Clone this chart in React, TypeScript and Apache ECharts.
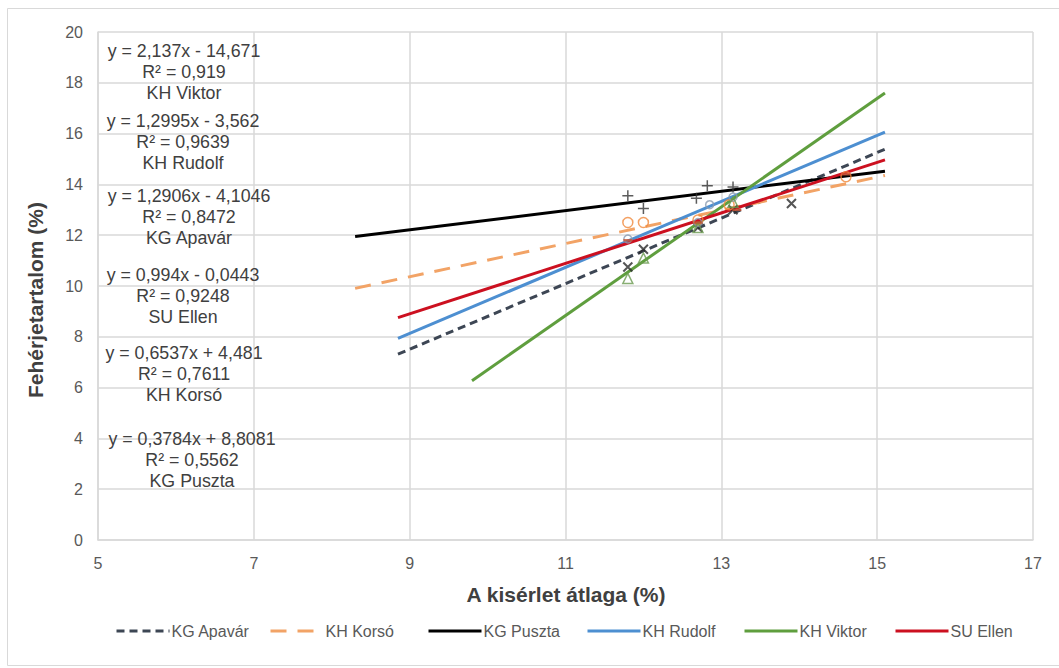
import React, { useEffect, useRef } from "react";
import * as echarts from "echarts";

// Trendline series (legend order)
const seriesNames = ["KG Apavár", "KH Korsó", "KG Puszta", "KH Rudolf", "KH Viktor", "SU Ellen"];
const slopes = [1.2906, 0.6537, 0.3784, 1.2995, 2.137, 0.994];
const intercepts = [-4.1046, 4.481, 8.8081, -3.562, -14.671, -0.0443];
const trendStartX = [8.85, 8.3, 8.3, 8.85, 9.8, 8.85];
const trendEndX = [15.1, 15.1, 15.1, 15.1, 15.1, 15.1];
const colors = ["#3d4654", "#f2a366", "#000000", "#4d8fd1", "#5f9e3e", "#cc1020"];
const dashTypes: any[] = [[8, 5], [16, 11], "solid", "solid", "solid", "solid"];

// Equation labels
const eqLabels = [
  "y = 2,137x - 14,671\nR² = 0,919\nKH Viktor",
  "y = 1,2995x - 3,562\nR² = 0,9639\nKH Rudolf",
  "y = 1,2906x - 4,1046\nR² = 0,8472\nKG Apavár",
  "y = 0,994x - 0,0443\nR² = 0,9248\nSU Ellen",
  "y = 0,6537x + 4,481\nR² = 0,7611\nKH Korsó",
  "y = 0,3784x + 8,8081\nR² = 0,5562\nKG Puszta",
];

// Observed points (x, y)
const ptsApavar = [[12.0, 11.45], [13.9, 13.25], [11.8, 10.75], [12.7, 12.3], [13.15, 13.0]];
const ptsKorso = [[11.8, 12.5], [12.0, 12.5], [12.7, 12.6], [13.1, 13.2], [14.6, 14.3]];
const ptsPuszta = [[11.8, 13.55], [12.0, 13.05], [12.68, 13.45], [12.82, 13.95], [13.15, 13.9]];
const ptsRudolf = [[11.8, 11.85], [12.85, 13.2], [12.7, 12.5], [13.15, 13.5]];
const ptsViktor = [[11.8, 10.3], [12.0, 11.1], [12.7, 12.3], [13.15, 13.3]];
const ptsEllen = [[11.8, 11.8], [12.7, 12.5], [13.2, 13.0], [14.6, 14.4]];

const xTitle = "A kisérlet átlaga (%)";
const yTitle = "Fehérjetartalom (%)";

const FONT = "'Liberation Sans', Arial, sans-serif";

export default function App() {
  const ref = useRef<HTMLDivElement>(null);
  useEffect(() => {
    if (!ref.current) return;
    const chart = echarts.init(ref.current, undefined, { renderer: "svg" });

    const trendSeries = seriesNames.map((name, i) => ({
      name,
      type: "line",
      symbol: "none",
      silent: true,
      data: [
        [trendStartX[i], slopes[i] * trendStartX[i] + intercepts[i]],
        [trendEndX[i], slopes[i] * trendEndX[i] + intercepts[i]],
      ],
      lineStyle: { color: colors[i], width: 3, type: dashTypes[i] },
      itemStyle: { color: colors[i] },
      z: 3,
    }));

    const scatterSeries: any[] = [
      {
        name: "p-Apavar", type: "scatter", data: ptsApavar,
        symbol: "path://M0,0L10,10M10,0L0,10", symbolSize: 9,
        itemStyle: { color: "none", borderColor: "#2a2a2a", borderWidth: 2 }, z: 4,
      },
      {
        name: "p-Korso", type: "scatter", data: ptsKorso,
        symbol: "circle", symbolSize: 10,
        itemStyle: { color: "rgba(255,255,255,0)", borderColor: "#f08a3c", borderWidth: 1.5 }, z: 4,
      },
      {
        name: "p-Puszta", type: "scatter", data: ptsPuszta,
        symbol: "path://M5,0L5,10M0,5L10,5", symbolSize: 11,
        itemStyle: { color: "none", borderColor: "#333333", borderWidth: 1.5 }, z: 4,
      },
      {
        name: "p-Rudolf", type: "scatter", data: ptsRudolf,
        symbol: "circle", symbolSize: 8,
        itemStyle: { color: "rgba(255,255,255,0)", borderColor: "#8a9bb0", borderWidth: 1.5 }, z: 4,
      },
      {
        name: "p-Viktor", type: "scatter", data: ptsViktor,
        symbol: "triangle", symbolSize: 10,
        itemStyle: { color: "rgba(255,255,255,0)", borderColor: "#6a9a50", borderWidth: 1.5 }, z: 4,
      },
      {
        name: "p-Ellen", type: "scatter", data: ptsEllen,
        symbol: "rect", symbolSize: [9, 2.5],
        itemStyle: { color: "#c85030" }, z: 4,
      },
    ];

    const eqCenters = [[184, 72], [183, 142], [189, 217], [183, 296], [184, 374], [192, 460]];
    const legendLefts = [110, 264, 422, 581, 738, 889];

    const graphics: any[] = [
      {
        type: "rect",
        shape: { x: 7.5, y: 8.5, width: 1060, height: 657 },
        style: { fill: "none", stroke: "#d9d9d9", lineWidth: 1 },
        silent: true,
      },
      {
        type: "text",
        x: 566,
        y: 594,
        style: {
          text: xTitle, align: "center", verticalAlign: "middle",
          fontFamily: FONT, fontSize: 21, fontWeight: "bold", fill: "#404040",
        },
      },
      {
        type: "text",
        x: 35,
        y: 300,
        rotation: Math.PI / 2,
        style: {
          text: yTitle, align: "center", verticalAlign: "middle",
          fontFamily: FONT, fontSize: 21, fontWeight: "bold", fill: "#404040",
        },
      },
      ...eqLabels.map((t, i) => ({
        type: "text",
        x: eqCenters[i][0],
        y: eqCenters[i][1],
        z: 10,
        style: {
          text: t, align: "center", verticalAlign: "middle",
          fontFamily: FONT, fontSize: 17.8, lineHeight: 20.7, fill: "#404040",
        },
      })),
    ];

    const legends = seriesNames.map((name, i) => ({
      data: [name],
      left: legendLefts[i],
      top: 618,
      itemWidth: 53,
      itemHeight: 12,
      itemStyle: { color: "rgba(0,0,0,0)", borderWidth: 0, opacity: 0 },
      lineStyle: { width: 3 },
      textStyle: { fontFamily: FONT, fontSize: 16, color: "#595959", padding: [0, 0, 0, -3] },
      selectedMode: false,
    }));

    chart.setOption({
      animation: false,
      backgroundColor: "#ffffff",
      grid: { left: 98, right: 26, top: 32, bottom: 128, containLabel: false },
      xAxis: {
        type: "value", min: 5, max: 17, interval: 2,
        axisLine: { show: true, lineStyle: { color: "#d9d9d9", width: 1.5 } },
        axisTick: { show: false },
        splitLine: { show: true, lineStyle: { color: "#d9d9d9", width: 1.5 } },
        axisLabel: { fontFamily: FONT, fontSize: 16, color: "#595959", margin: 15 },
      },
      yAxis: {
        type: "value", min: 0, max: 20, interval: 2,
        axisLine: { show: true, lineStyle: { color: "#d9d9d9", width: 1.5 } },
        axisTick: { show: false },
        splitLine: { show: true, lineStyle: { color: "#d9d9d9", width: 1.5 } },
        axisLabel: { fontFamily: FONT, fontSize: 16, color: "#595959", margin: 15 },
      },
      legend: legends,
      graphic: graphics,
      series: [...scatterSeries, ...trendSeries],
    });
    return () => chart.dispose();
  }, []);

  return (
    <div
      ref={ref}
      style={{ position: "fixed", left: 0, top: 0, width: 1059, height: 668, background: "#fff" }}
    />
  );
}
